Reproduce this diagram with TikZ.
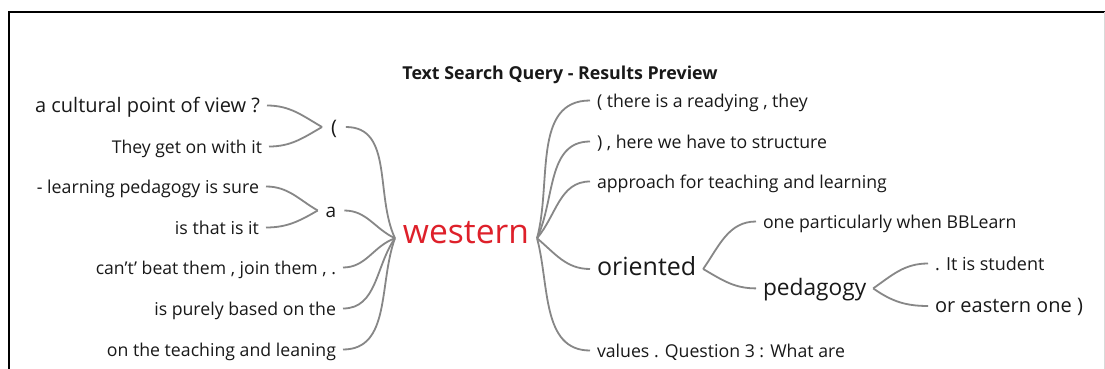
\documentclass[tikz,border=0pt]{standalone}
\usepackage{fontspec}
\setmainfont{Open Sans}
\newcommand\fsz[1]{\fontsize{#1}{#1}\selectfont}
\definecolor{lgray}{RGB}{135,135,135}
\definecolor{wred}{RGB}{222,32,42}
\definecolor{txt}{RGB}{25,25,25}
\begin{document}
\begin{tikzpicture}[x=1pt,y=1pt,
  every node/.style={text=txt},
  lf/.style={font=\fsz{#1}, inner sep=0pt, outer xsep=7pt, outer ysep=0pt, text height=1.3em, text depth=0pt},
  lfL/.style={lf=#1, anchor=base east},
  lfR/.style={lf=#1, anchor=base west},
  br/.style={draw=lgray, line width=1.8pt}]
\useasboundingbox (0,0) rectangle (1105,-369);
\fill[white] (0,0) rectangle (1105,-369);
% frame
\draw[line width=2pt, black] (8.5,-369) -- (8.5,-12.5) -- (1105,-12.5);
\draw[line width=1pt, black!15] (1104,-12.5) -- (1104,-369);
% title
\node[font=\fsz{17.8}\bfseries, anchor=base, inner sep=0pt] (title) at (560,-79) {Text Search Query - Results Preview};
% centre
\node[font=\fsz{33.6}, text=wred, anchor=base, inner sep=0pt, outer xsep=8pt, text height=0.95em, text depth=0pt] (w) at (466,-243) {western};
% left side
\node[lfL=20]   (l1) at (267,-112) {a cultural point of view ?};
\node[lfL=17.6] (l2) at (269,-153) {They get on with it};
\node[lfL=17.8] (l3) at (266,-193) {- learning pedagogy is sure};
\node[lfL=17.8] (l4) at (266,-234) {is that is it};
\node[font=\fsz{20}, anchor=base, inner sep=0pt, outer xsep=9pt, text height=1.4em, text depth=0pt] (p1) at (334,-134) {(};
\node[font=\fsz{19}, anchor=base, inner sep=0pt, outer xsep=8pt, text height=1.3em, text depth=0pt] (p2) at (331,-217) {a};
\node[lfL=17.6] (l7) at (343,-274) {can’t’ beat them , join them , .};
\node[lfL=17.7] (l8) at (343,-315) {is purely based on the};
\node[lfL=17.7] (l9) at (343,-356) {on the teaching and leaning};
% right side
\node[lfR=17.7] (r1) at (590,-107) {( there is a readying , they};
\node[lfR=17.7] (r2) at (590,-148) {) , here we have to structure};
\node[lfR=17.7] (r3) at (590,-188) {approach for teaching and learning};
\node[lfR=25, text height=1.2em] (r4) at (590,-275) {oriented};
\node[lfR=17.7] (r5) at (590,-357) {values . Question 3 : What are};
\node[lfR=17.7] (o1) at (756,-228) {one particularly when BBLearn};
\node[lfR=22.7, text height=1.32em] (o2) at (756,-295) {pedagogy};
\node[lfR=18] (q1) at (928,-270) {. It is student};
\node[lfR=20, text height=1.2em] (q2) at (928,-312) {or eastern one )};
% connectors left
\draw[br] (l1.east) to[out=0,in=150] (p1.west);
\draw[br] (l2.east) to[out=0,in=210] (p1.west);
\draw[br] (l3.east) to[out=0,in=150] (p2.west);
\draw[br] (l4.east) to[out=0,in=210] (p2.west);
\draw[br] (p1.east) to[out=0,in=115] (w.west);
\draw[br] (p2.east) to[out=0,in=155] (w.west);
\draw[br] (l7.east) to[out=0,in=200] (w.west);
\draw[br] (l8.east) to[out=0,in=235] (w.west);
\draw[br] (l9.east) to[out=0,in=250] (w.west);
% connectors right
\draw[br] (w.east) to[out=75,in=180] (r1.west);
\draw[br] (w.east) to[out=65,in=180] (r2.west);
\draw[br] (w.east) to[out=50,in=180] (r3.west);
\draw[br] (w.east) to[out=-40,in=180] (r4.west);
\draw[br] (w.east) to[out=-75,in=180] (r5.west);
\draw[br] (r4.east) to[out=55,in=180] (o1.west);
\draw[br] (r4.east) to[out=-30,in=180] (o2.west);
\draw[br] (o2.east) to[out=35,in=180] (q1.west);
\draw[br] (o2.east) to[out=-35,in=180] (q2.west);
\end{tikzpicture}
\end{document}
